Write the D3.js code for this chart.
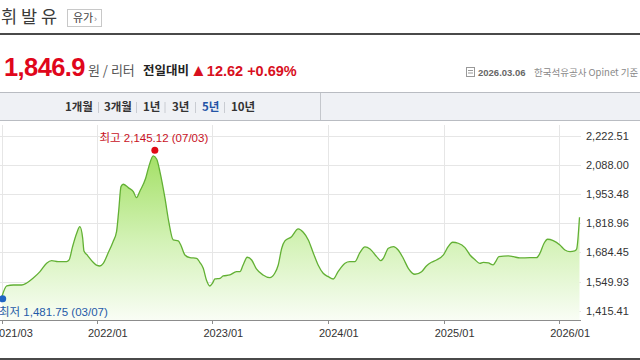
<!DOCTYPE html>
<html><head><meta charset="utf-8">
<script src="https://cdn.jsdelivr.net/npm/d3@7/dist/d3.min.js"></script>
<style>
html,body{margin:0;padding:0;background:#fff;overflow:hidden;}
svg{display:block;}
</style></head>
<body>
<svg id="c" width="640" height="360"></svg>
<script>
// ---- data ----
const dates = ["2021-03-07","2021-03-22","2021-04-12","2021-05-08","2021-05-24","2021-06-13","2021-07-05","2021-07-26","2021-08-11","2021-08-31",
"2021-09-27","2021-10-05","2021-10-16","2021-10-29","2021-11-08","2021-11-17","2021-11-21","2021-12-01","2021-12-20","2022-01-01",
"2022-01-10","2022-01-21","2022-02-05","2022-02-21","2022-03-04","2022-03-11","2022-03-18","2022-03-25","2022-04-10","2022-04-26",
"2022-05-06","2022-05-17","2022-06-04","2022-06-14","2022-06-28","2022-07-09","2022-07-19","2022-08-04","2022-08-16","2022-08-30",
"2022-09-15","2022-09-23","2022-10-06","2022-10-22","2022-11-12","2022-11-22","2022-12-03","2022-12-13","2022-12-24","2023-01-01",
"2023-01-09","2023-01-25","2023-02-04","2023-02-25","2023-03-18","2023-03-29","2023-04-08","2023-04-21","2023-05-05","2023-05-20",
"2023-06-10","2023-07-01","2023-07-17","2023-07-28","2023-08-08","2023-08-18","2023-09-08","2023-09-29","2023-10-15","2023-10-31",
"2023-11-16","2023-12-01","2023-12-17","2024-01-02","2024-01-18","2024-02-02","2024-02-24","2024-03-10","2024-03-26","2024-04-11",
"2024-04-27","2024-05-13","2024-06-03","2024-06-16","2024-06-24","2024-07-10","2024-07-26","2024-08-10","2024-08-26","2024-09-11",
"2024-10-02","2024-10-23","2024-11-08","2024-11-23","2024-12-09","2024-12-31","2025-01-15","2025-01-29","2025-02-16","2025-03-09",
"2025-03-25","2025-04-09","2025-04-25","2025-05-06","2025-05-22","2025-06-06","2025-06-14","2025-06-24","2025-07-24","2025-08-09",
"2025-08-30","2025-09-30","2025-10-21","2025-11-01","2025-11-14","2025-11-25","2025-12-13","2026-01-03","2026-01-19","2026-02-04",
"2026-02-19","2026-02-25","2026-03-06"];
const prices = [1482,1529.6,1534.2,1534.2,1543.5,1565.2,1595.7,1634.5,1646.5,1641.9,
1641.9,1649.8,1711.3,1773.2,1803.7,1750.1,1691.4,1672.9,1639.1,1624.3,
1622.0,1634.5,1680.7,1734.4,1780.6,1880.9,1988.6,1999.7,1984.0,1965.5,
1937.8,1968.7,2027.4,2081.1,2130.5,2115.3,2058.0,1935.0,1826.8,1742.2,
1737.6,1719.1,1672.9,1660.4,1657.6,1639.1,1611.4,1557.3,1529.6,1542.1,
1561.9,1565.2,1575.8,1580.4,1595.7,1595.7,1626.7,1662.3,1649.8,1608.2,
1580.4,1567.9,1588.3,1626.7,1703.9,1737.6,1757.5,1793.1,1777.8,1742.2,
1680.7,1626.7,1588.3,1572.6,1561.9,1595.7,1634.5,1641.9,1641.9,1683.5,
1709.9,1700.6,1665.0,1646.5,1657.6,1703.9,1711.3,1696.0,1657.6,1611.4,
1583.7,1595.7,1623.4,1639.1,1649.8,1672.9,1711.3,1731.6,1727.0,1706.6,
1672.9,1652.1,1634.5,1639.1,1635.9,1626.7,1641.9,1665.0,1668.3,1665.0,
1659.0,1660.4,1660.4,1680.7,1727.0,1745.5,1739.0,1719.1,1696.0,1688.1,
1691.4,1700.6,1846.9];
const yTicks = [1415.41,1549.93,1684.45,1818.96,1953.48,2088.00,2222.51];
const yTickLabels = ["1,415.41","1,549.93","1,684.45","1,818.96","1,953.48","2,088.00","2,222.51"];
const xTicks = ["2021-03-07","2022-01-01","2023-01-01","2024-01-01","2025-01-01","2026-01-01"];
const xTickLabels = ["2021/03","2022/01","2023/01","2024/01","2025/01","2026/01"];
const periods = ["1개월","3개월","1년","3년","5년","10년"];
const highPoint = {date:"2022-07-03", value:2145.12, label:"최고 2,145.12 (07/03)"};
const lowPoint = {date:"2021-03-07", value:1481.75, label:"최저 1,481.75 (03/07)"};

const parse = d3.timeParse("%Y-%m-%d");
const data = dates.map((d,i)=>({date:parse(d), value:prices[i]}));

const svg = d3.select("#c");
const KR = "'Noto Sans CJK KR','Noto Sans',sans-serif";
const LAT = "'Liberation Sans','Noto Sans CJK KR',Arial,sans-serif";

svg.append("rect").attr("width",640).attr("height",360).attr("fill","#fff");

// ---- header ----
svg.append("text").attr("x",1).attr("y",23).attr("font-family",KR).attr("font-size",17.5).attr("fill","#3a3a3a").text("휘 발 유");
svg.append("rect").attr("x",67.5).attr("y",9.5).attr("width",34).attr("height",17).attr("fill","#fff").attr("stroke","#c8c8c8");
svg.append("text").attr("x",73).attr("y",22).attr("font-family",KR).attr("font-size",11).attr("fill","#444").text("유가");
svg.append("text").attr("x",94).attr("y",21.5).attr("font-family",LAT).attr("font-size",9).attr("fill","#888").text("›");
svg.append("rect").attr("x",0).attr("y",33).attr("width",640).attr("height",2).attr("fill","#4a4a4a");

svg.append("text").attr("x",4).attr("y",76).attr("font-family",LAT).attr("font-weight","bold").attr("font-size",25.5)
  .attr("letter-spacing",-0.6).attr("fill","#e0061b").text("1,846.9");
svg.append("text").attr("x",88).attr("y",75).attr("font-family",KR).attr("font-size",13).attr("fill","#555").text("원 / 리터");
svg.append("text").attr("x",143).attr("y",75).attr("font-family",KR).attr("font-weight","bold").attr("font-size",12.5).attr("fill","#222").text("전일대비");
const chg = svg.append("text").attr("x",190).attr("y",76).attr("font-family",LAT).attr("font-weight","bold").attr("font-size",14.5).attr("fill","#d8101e");
chg.append("tspan").attr("font-size",17).text("▲");
chg.append("tspan").text("12.62 +0.69%");

// source line
const ic = svg.append("g").attr("transform","translate(466,67)");
ic.append("rect").attr("x",0.5).attr("y",0.5).attr("width",8).attr("height",9).attr("fill","none").attr("stroke","#999");
ic.append("line").attr("x1",2).attr("x2",7).attr("y1",3.5).attr("y2",3.5).attr("stroke","#999");
ic.append("line").attr("x1",2).attr("x2",7).attr("y1",6).attr("y2",6).attr("stroke","#999");
svg.append("text").attr("x",478).attr("y",76).attr("font-family",LAT).attr("font-weight","bold").attr("font-size",9.5).attr("fill","#666").text("2026.03.06");
svg.append("text").attr("x",534).attr("y",76).attr("font-family",KR).attr("font-size",9.5).attr("fill","#888").text("한국석유공사 Opinet 기준");

// period bar
svg.append("rect").attr("x",-1).attr("y",92.5).attr("width",642).attr("height",28).attr("fill","#eff1f5").attr("stroke","#b9bcc2");
svg.append("line").attr("x1",320.5).attr("x2",320.5).attr("y1",93).attr("y2",120).attr("stroke","#c4c7cc");
const pX = [65,104,143,172,202,231];
const sepX = [98,136,164.5,195,224];
periods.forEach((p,i)=>{
  svg.append("text").attr("x",pX[i]).attr("y",111).attr("font-family",KR).attr("font-weight","bold").attr("font-size",11.5)
    .attr("fill", p==="5년" ? "#2454a6" : "#333").text(p);
});
sepX.forEach(x=>svg.append("line").attr("x1",x+0.5).attr("x2",x+0.5).attr("y1",102).attr("y2",113).attr("stroke","#c9ccd2"));

// ---- chart ----
const x = d3.scaleTime().domain([parse("2021-03-07"), parse("2026-03-06")]).range([2, 579.5]);
const y = d3.scaleLinear().domain([1415.41, 2222.51]).range([310.7, 136]);

const defs = svg.append("defs");
const grad = defs.append("linearGradient").attr("id","g").attr("gradientUnits","userSpaceOnUse")
  .attr("x1",0).attr("x2",0).attr("y1",145).attr("y2",320);
grad.append("stop").attr("offset","0%").attr("stop-color","#9ede5c");
grad.append("stop").attr("offset","55%").attr("stop-color","#d3f2b6");
grad.append("stop").attr("offset","100%").attr("stop-color","#f9fdf5");

// grid
svg.append("g").selectAll("line").data(yTicks).join("line")
  .attr("x1",0).attr("x2",581).attr("y1",d=>Math.round(y(d))+0.5).attr("y2",d=>Math.round(y(d))+0.5)
  .attr("stroke","#e6e6e6");
svg.append("g").selectAll("line").data(xTicks).join("line")
  .attr("x1",d=>Math.round(x(parse(d)))+0.5).attr("x2",d=>Math.round(x(parse(d)))+0.5)
  .attr("y1",125).attr("y2",320).attr("stroke","#e6e6e6");

// area + line
const area = d3.area().x(d=>x(d.date)).y0(320).y1(d=>y(d.value)).curve(d3.curveMonotoneX);
const line = d3.line().x(d=>x(d.date)).y(d=>y(d.value)).curve(d3.curveMonotoneX);
svg.append("path").datum(data).attr("d",area).attr("fill","url(#g)");
svg.append("path").datum(data).attr("d",line).attr("fill","none").attr("stroke","#62b034").attr("stroke-width",1.3);

// axes
svg.append("line").attr("x1",0).attr("x2",581).attr("y1",320.5).attr("y2",320.5).attr("stroke","#8c8c8c");
svg.append("g").selectAll("line").data(xTicks).join("line")
  .attr("x1",d=>Math.round(x(parse(d)))+0.5).attr("x2",d=>Math.round(x(parse(d)))+0.5)
  .attr("y1",320).attr("y2",324).attr("stroke","#8c8c8c");
svg.append("g").selectAll("text").data(xTicks).join("text")
  .attr("x",d=>x(parse(d))-9).attr("y",337).attr("font-family",LAT).attr("font-size",11).attr("fill","#333")
  .text((d,i)=>xTickLabels[i]);
svg.append("g").selectAll("text").data(yTicks).join("text")
  .attr("x",586).attr("y",d=>y(d)+4).attr("font-family",LAT).attr("font-size",11).attr("fill","#333")
  .text((d,i)=>yTickLabels[i]);

// high / low markers
const hx = x(parse(highPoint.date)), hy = y(highPoint.value)-2.5;
svg.append("circle").attr("cx",hx).attr("cy",hy).attr("r",3.5).attr("fill","#e00a14");
svg.append("text").attr("x",hx-1).attr("y",hy-8).attr("text-anchor","middle").attr("font-family",LAT).attr("font-size",11.5)
  .attr("fill","#c8111e").text(highPoint.label);
const lx = x(parse(lowPoint.date)), ly = y(lowPoint.value)+2.5;
svg.append("circle").attr("cx",lx+0.7).attr("cy",ly).attr("r",3.5).attr("fill","#1f64c4");
svg.append("text").attr("x",-1).attr("y",ly+17).attr("font-family",LAT).attr("font-size",11.5)
  .attr("fill","#1f5aa8").text(lowPoint.label);

// bottom border
svg.append("rect").attr("x",0).attr("y",358).attr("width",640).attr("height",2).attr("fill","#4a4a4a");
</script>
</body></html>
